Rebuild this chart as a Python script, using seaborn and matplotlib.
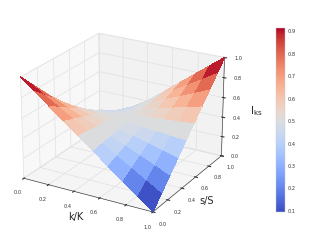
import matplotlib
matplotlib.use("Agg")
import matplotlib.pyplot as plt
import numpy as np
import seaborn as sns
from matplotlib.colors import Normalize

# grid values
k_vals = [0.0, 0.111, 0.222, 0.333, 0.444, 0.556, 0.667, 0.778, 0.889, 1.0]
s_vals = [0.0, 0.111, 0.222, 0.333, 0.444, 0.556, 0.667, 0.778, 0.889, 1.0]
# one row per k, one column per s
i_ks = [
    [1.000, 0.889, 0.778, 0.667, 0.556, 0.444, 0.333, 0.222, 0.111, 0.000],
    [0.889, 0.802, 0.716, 0.630, 0.543, 0.457, 0.370, 0.284, 0.198, 0.111],
    [0.778, 0.716, 0.654, 0.593, 0.531, 0.469, 0.407, 0.346, 0.284, 0.222],
    [0.667, 0.630, 0.593, 0.556, 0.519, 0.481, 0.444, 0.407, 0.370, 0.333],
    [0.556, 0.543, 0.531, 0.519, 0.506, 0.494, 0.481, 0.469, 0.457, 0.444],
    [0.444, 0.457, 0.469, 0.481, 0.494, 0.506, 0.519, 0.531, 0.543, 0.556],
    [0.333, 0.370, 0.407, 0.444, 0.481, 0.519, 0.556, 0.593, 0.630, 0.667],
    [0.222, 0.284, 0.346, 0.407, 0.469, 0.531, 0.593, 0.654, 0.716, 0.778],
    [0.111, 0.198, 0.284, 0.370, 0.457, 0.543, 0.630, 0.716, 0.802, 0.889],
    [0.000, 0.111, 0.222, 0.333, 0.444, 0.556, 0.667, 0.778, 0.889, 1.000],
]
axis_ticks = [0.0, 0.2, 0.4, 0.6, 0.8, 1.0]
cbar_ticks = [0.1, 0.2, 0.3, 0.4, 0.5, 0.6, 0.7, 0.8, 0.9]

sns.set_style("white")
cmap = sns.color_palette("coolwarm", as_cmap=True)

fig = plt.figure(figsize=(3.14, 2.42), dpi=100)
ax = fig.add_axes([-0.024, 0.0, 0.82, 1.0], projection="3d")
ax.view_init(elev=23, azim=-60)
ax.set_box_aspect((4, 4, 2.95), zoom=0.94)

K, S = np.meshgrid(k_vals, s_vals, indexing="ij")
surf = ax.plot_surface(K, S, np.array(i_ks), cmap=cmap,
                       norm=Normalize(0.094, 0.913),
                       rstride=1, cstride=1, linewidth=0, antialiased=False)

ax.set_xlim(0, 1)
ax.set_ylim(0, 1)
ax.set_zlim(0, 1)
ax.set_xticks(axis_ticks)
ax.set_yticks(axis_ticks)
ax.set_zticks(axis_ticks)
ax.tick_params(labelsize=3.6, length=2, width=0.4, colors="#333333")
ax.tick_params(axis="x", pad=-1)
ax.tick_params(axis="y", pad=-1.5)
ax.tick_params(axis="z", pad=-1.5)

for axis in [ax.xaxis, ax.yaxis, ax.zaxis]:
    axis._axinfo["grid"]["color"] = (0.88, 0.88, 0.88, 1)
    axis._axinfo["grid"]["linewidth"] = 0.5
    axis.line.set_linewidth(0.4)
    axis.set_rotate_label(False)

ax.set_xlabel("k/K", fontsize=7, labelpad=-8.5)
ax.set_ylabel("s/S", fontsize=7, labelpad=-8.5)
# the z label sits lower and further out than mplot3d puts it
fig.text(256 / 314, 1 - 111 / 242, "I$_{\\mathrm{ks}}$", fontsize=7.5, ha="center", va="center")

cax = fig.add_axes([0.879, 0.123, 0.03, 0.76])
cbar = fig.colorbar(surf, cax=cax, ticks=cbar_ticks)
cbar.ax.tick_params(labelsize=3.6, length=1, width=0.3, pad=1.5, direction="in", colors="#333333")
cbar.outline.set_linewidth(0.3)
cbar.outline.set_edgecolor("#c8c8d8")

fig.savefig("out.png", dpi=100)
